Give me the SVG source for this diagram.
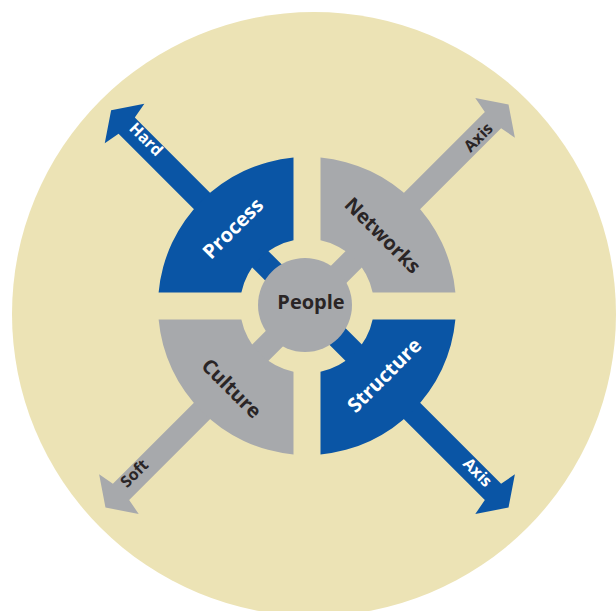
<svg xmlns="http://www.w3.org/2000/svg" xmlns:xlink="http://www.w3.org/1999/xlink" width="616" height="611" viewBox="0 0 616 611">
<style>
.lbl{font-family:"Open Sans","Liberation Sans",sans-serif;font-weight:700;text-anchor:middle;dominant-baseline:central}
.big{font-size:20px}
.small{font-size:16px}
.w{fill:#FFFFFF}
.d{fill:#2A2526}
.blue{fill:#0A55A5}
.gray{fill:#A7A9AC}
</style>
<defs>
<path id="quad" d="M -13.5,-148.39 A 149 149 0 0 0 -148.39,-13.5 L -65.63,-13.5 A 67 67 0 0 1 -13.5,-65.63 Z"/>
</defs>
<rect width="616" height="611" fill="#FFFFFF"/>
<circle cx="314" cy="314" r="302" fill="#ECE3B5"/>
<g id="connectors">
  <path class="blue" transform="translate(307,306) rotate(225)" d="M 0,-11.5 L 255,-11.5 L 258,-28 L 277,0 L 258,28 L 255,11.5 L 0,11.5 Z"/>
  <path class="gray" transform="translate(307,306) rotate(-45)" d="M 0,-11.5 L 263,-11.5 L 266,-28 L 285,0 L 266,28 L 263,11.5 L 0,11.5 Z"/>
  <path class="gray" transform="translate(307,306) rotate(135)" d="M 0,-11.5 L 263,-11.5 L 266,-28 L 285,0 L 266,28 L 263,11.5 L 0,11.5 Z"/>
  <path class="blue" transform="translate(307,306) rotate(45)" d="M 0,-11.5 L 263,-11.5 L 266,-28 L 285,0 L 266,28 L 263,11.5 L 0,11.5 Z"/>
  <text class="lbl small w" transform="translate(146.5,139) rotate(45)">Hard</text>
  <text class="lbl small d" transform="translate(478,137) rotate(-45)">Axis</text>
  <text class="lbl small d" transform="translate(134,473) rotate(-45)">Soft</text>
  <text class="lbl small w" transform="translate(478,472) rotate(45)">Axis</text>
</g>
<g id="process">
  <use xlink:href="#quad" class="blue" transform="translate(307,306)"/>
  <text class="lbl big w" transform="translate(232.5,228) rotate(-45)">Process</text>
</g>
<g id="networks">
  <use xlink:href="#quad" class="gray" transform="translate(307,306) rotate(90)"/>
  <text class="lbl big d" transform="translate(383,235) rotate(45)">Networks</text>
</g>
<g id="structure">
  <use xlink:href="#quad" class="blue" transform="translate(307,306) rotate(180)"/>
  <text class="lbl big w" transform="translate(384,375) rotate(-45)">Structure</text>
</g>
<g id="culture">
  <use xlink:href="#quad" class="gray" transform="translate(307,306) rotate(270)"/>
  <text class="lbl big d" transform="translate(232,388) rotate(45)">Culture</text>
</g>
<g id="people">
  <circle cx="305" cy="305" r="47" class="gray"/>
  <text class="lbl big d" x="311" y="301">People</text>
</g>
</svg>
